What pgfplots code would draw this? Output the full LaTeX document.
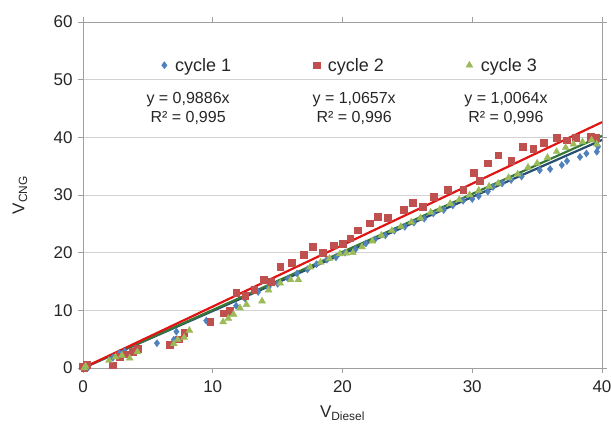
\documentclass[border=0pt]{standalone}
\usepackage{fontspec}
\setmainfont{Liberation Sans}
\usepackage{pgfplots}
\pgfplotsset{compat=1.18}
\definecolor{cA}{RGB}{79,129,189}
\definecolor{cB}{RGB}{192,80,77}
\definecolor{cC}{RGB}{155,187,89}
\definecolor{lA}{RGB}{38,78,112}
\definecolor{lB}{RGB}{225,20,20}
\definecolor{lC}{RGB}{55,120,55}
\begin{document}
\begin{tikzpicture}[x=1pt,y=1pt]
\path[use as bounding box] (-83,-59) rectangle (528,368);
\begin{axis}[
  scale only axis, width=519pt, height=346pt,
  xmin=0, xmax=40, ymin=0, ymax=60,
  xtick={0,10,20,30,40}, ytick={0,10,20,30,40,50,60},
  ymajorgrids, grid style={gray!35, line width=0.6pt},
  axis line style={gray!75, line width=0.6pt},
  tick style={gray!75, line width=0.6pt},
  tick align=outside, major tick length=5pt,
  /pgf/number format/assume math mode=true,
  ticklabel style={font=\fontsize{17}{20}\selectfont, text=black!85},
  xticklabel style={yshift=-4pt},
  yticklabel style={xshift=-2pt},
  xlabel={V\textsubscript{Diesel}},
  ylabel={V\textsubscript{CNG}},
  label style={font=\fontsize{17}{20}\selectfont, text=black!85},
  xlabel style={at={(axis description cs:0.5,-0.13)}, anchor=center},
  ylabel style={at={(axis description cs:-0.1214,0.5)}, anchor=center},
  legend columns=3,
  legend style={draw=none, fill=none, at={(axis cs:20.6,52.5)}, anchor=center,
    font=\fontsize{18}{21}\selectfont, text=black!85,
    /tikz/every odd column/.append style={column sep=6pt},
    /tikz/every even column/.append style={column sep=80pt}},
  legend image code/.code={\draw[#1] plot coordinates {(0pt,0pt)};},
  clip=false,
]
\addplot[only marks, mark=diamond*, mark size=3.6pt, mark options={draw=cA, fill=cA}] coordinates {
(0,0) (0.2,0.3) (0.4,0.1) (2.3,1.8) (2.8,2.6) (3.2,2.9) (4.0,3.2) (5.7,4.3) (7.0,4.9) (7.2,6.3)
(9.5,8.2) (11.2,9.4) (11.8,10.8) (12.5,12.0) (13.5,13.2) (14.3,14.0) (15.0,14.6) (15.8,15.5)
(16.5,16.4) (17.3,17.1) (18.0,18.0) (18.8,18.8) (19.5,19.2) (20.2,20.0) (21.0,20.6) (21.8,21.6)
(22.5,22.3) (23.3,23.0) (24.0,23.8) (24.8,24.5) (25.5,25.2) (26.3,25.9) (27.0,26.8) (27.8,27.4)
(28.5,28.2) (29.3,29.0) (30.0,29.3) (30.5,29.8) (31.2,30.6) (31.6,31.4) (32.3,32.0) (33.0,32.6)
(33.8,33.2) (35.2,34.3) (36.0,34.5) (36.9,35.2) (37.3,35.9) (38.3,36.6) (38.8,37.2) (39.6,37.5)
(39.7,38.4)
};
\addlegendentry{cycle 1}
\addplot[only marks, mark=square*, mark size=3.4pt, mark options={draw=cB, fill=cB}] coordinates {
(0,0.3) (0.3,0.6) (0.1,0.1) (2.3,0.5) (2.8,2.0) (3.3,2.4) (3.8,2.8) (4.2,3.3) (6.7,4.0) (7.4,5.0)
(7.8,6.1) (9.8,8.0) (10.8,9.5) (11.3,10.0) (11.8,13.0) (12.5,12.5) (13.2,13.6) (13.9,15.3)
(14.5,15.0) (15.2,17.6) (16.1,18.2) (17.0,19.6) (17.7,21.0) (18.5,20.0) (19.3,21.3) (20.0,21.5)
(20.6,22.5) (21.2,23.9) (22.1,25.1) (22.7,26.2) (23.5,26.0) (24.7,27.4) (25.4,28.6) (26.2,28.0)
(27.0,29.7) (28.1,30.9) (29.3,30.9) (30.1,33.8) (30.6,32.5) (31.2,35.5) (32.0,36.9) (33.0,36.0)
(33.9,38.4) (34.7,38.0) (35.5,39.0) (36.5,39.9) (37.3,39.5) (38.0,40.0) (39.1,40.1) (39.5,40.0)
};
\addlegendentry{cycle 2}
\addplot[only marks, mark=triangle*, mark size=4pt, mark options={draw=cC, fill=cC}] coordinates {
(0.1,0) (0.2,0.3) (2.0,1.3) (2.5,1.9) (3.0,2.2) (3.6,1.7) (4.2,2.8) (7.0,4.2) (7.3,4.9) (7.8,5.3)
(8.2,6.5) (10.8,8.0) (11.2,8.6) (11.6,9.3) (12.1,10.4) (12.6,11.0) (13.8,11.6) (14.3,13.5)
(15.2,14.7) (16.0,15.3) (16.6,15.3) (17.5,17.5) (18.3,18.3) (19.0,19.0) (19.8,19.8) (20.3,19.9)
(20.8,20.0) (21.5,21.0) (22.3,22.0) (23.0,23.0) (23.8,23.8) (24.5,24.5) (25.3,25.3) (26.0,26.0)
(26.8,27.0) (27.5,27.5) (28.3,28.5) (29.0,29.2) (29.8,30.0) (30.5,30.8) (31.3,31.5) (32.0,32.0)
(32.8,33.0) (33.5,33.6) (34.3,34.8) (35.0,35.5) (35.8,36.5) (36.5,37.5) (37.2,38.2) (37.8,38.8)
(38.5,39.2) (39.2,39.5) (39.6,38.8)
};
\addlegendentry{cycle 3}
\addplot[forget plot, lA, line width=2.2pt] coordinates {(0,0) (40,39.544)};
\addplot[forget plot, lC, line width=2.2pt] coordinates {(0,0) (40,40.256)};
\addplot[forget plot, lB, line width=2.2pt] coordinates {(0,0) (40,42.628)};
\node[align=center, font=\fontsize{16}{19}\selectfont, text=black!85] at (axis cs:8.1,45.0) {y = 0,9886x\\R² = 0,995};
\node[align=center, font=\fontsize{16}{19}\selectfont, text=black!85] at (axis cs:20.9,45.0) {y = 1,0657x\\R² = 0,996};
\node[align=center, font=\fontsize{16}{19}\selectfont, text=black!85] at (axis cs:32.6,45.0) {y = 1,0064x\\R² = 0,996};
\end{axis}
\end{tikzpicture}
\end{document}
